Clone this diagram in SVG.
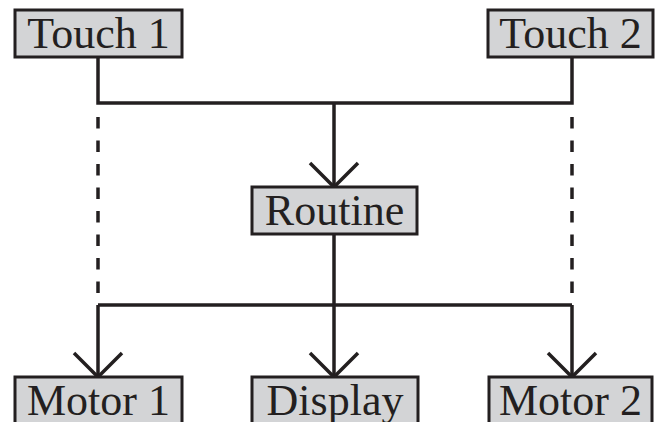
<svg xmlns="http://www.w3.org/2000/svg" width="660" height="422" viewBox="0 0 660 422">
<style>
.box{fill:#d3d4d6;stroke:#231f20;stroke-width:3}
.lbl{font-family:"Liberation Serif","Times New Roman",serif;font-size:44px;fill:#231f20;text-anchor:middle}
.ln{fill:none;stroke:#231f20;stroke-width:3.5}
.dash{stroke-dasharray:11.5 12}
</style>
<defs>
<marker id="arr" markerWidth="60" markerHeight="60" refX="26" refY="26" markerUnits="userSpaceOnUse" orient="auto">
<path d="M2,2 L26,26 L2,50" fill="none" stroke="#231f20" stroke-width="3.5"/>
</marker>
</defs>
<rect width="660" height="422" fill="#fff"/>
<g id="connectors">
<path class="ln" d="M98,57 V103 H572 V57"/>
<path class="ln" d="M334,103 V187" marker-end="url(#arr)"/>
<path class="ln dash" d="M98,117 V299"/>
<path class="ln dash" d="M572,117 V299"/>
<path class="ln" d="M334,234 V305"/>
<path class="ln" d="M98,305 H572"/>
<path class="ln" d="M98,305 V377" marker-end="url(#arr)"/>
<path class="ln" d="M334,305 V377" marker-end="url(#arr)"/>
<path class="ln" d="M572,305 V377" marker-end="url(#arr)"/>
</g>
<g id="touch1"><rect class="box" x="15" y="10" width="167" height="47"/><text class="lbl" x="98.5" y="48">Touch 1</text></g>
<g id="touch2"><rect class="box" x="488" y="10" width="165" height="47"/><text class="lbl" x="570.5" y="48">Touch 2</text></g>
<g id="routine"><rect class="box" x="252" y="187" width="165" height="47"/><text class="lbl" x="334.5" y="225">Routine</text></g>
<g id="motor1"><rect class="box" x="15" y="377" width="167" height="60"/><text class="lbl" x="98.5" y="415">Motor 1</text></g>
<g id="display"><rect class="box" x="252" y="377" width="166" height="60"/><text class="lbl" x="335" y="415">Display</text></g>
<g id="motor2"><rect class="box" x="489" y="377" width="163" height="60"/><text class="lbl" x="570.5" y="415">Motor 2</text></g>
</svg>
